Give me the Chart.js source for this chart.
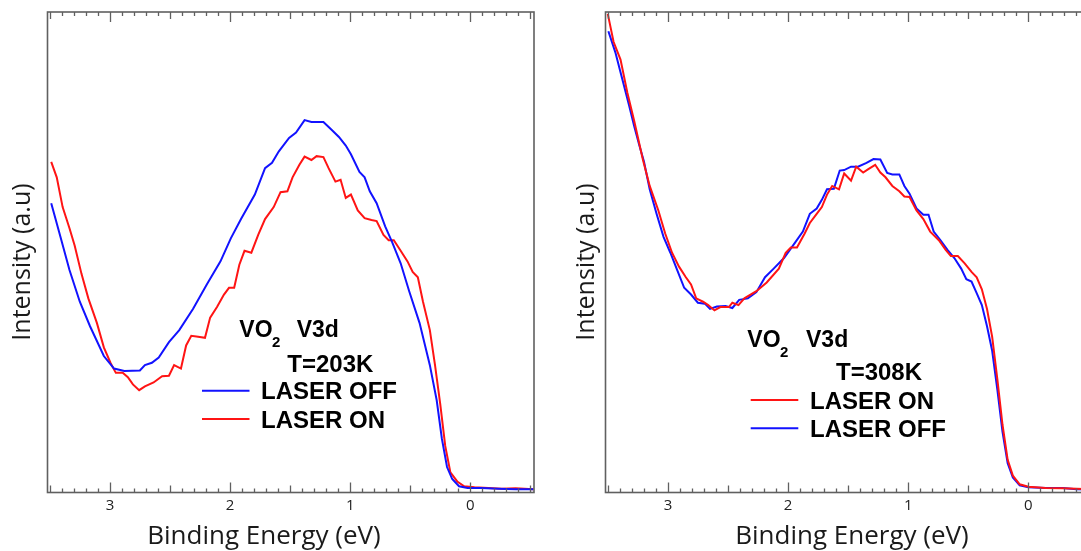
<!DOCTYPE html>
<html>
<head>
<meta charset="utf-8">
<script src="https://cdn.jsdelivr.net/npm/chart.js@4.4.1/dist/chart.umd.min.js"></script>
<style>
  html, body { margin: 0; padding: 0; background: #fff; overflow: hidden; width: 1081px; height: 551px; }
  canvas { position: absolute; top: 0; }
  #left-panel { left: 0; }
  #right-panel { left: 558px; }
</style>
</head>
<body>
<canvas id="left-panel" width="540" height="551"></canvas>
<canvas id="right-panel" width="540" height="551"></canvas>
<script>
// binding energy axis (eV), reversed, and the labelled ticks
const energyMin = -0.53;
const energyMax = 3.52;
const energyTicks = [0, 1, 2, 3];

// V3d spectra [binding energy (eV), intensity (a.u.)]
// T = 203 K
const off203 = [
  [3.489,60.2],[3.409,52.9],[3.337,46.3],[3.251,39.7],[3.166,34.6],[3.051,28.4],[2.966,25.8],
  [2.88,25.3],[2.751,25.4],[2.709,26.5],[2.651,27.0],[2.594,28.1],[2.509,31.3],[2.423,33.8],
  [2.309,38.2],[2.194,43.3],[2.08,48.1],[1.994,52.9],[1.909,56.9],[1.794,62.0],[1.709,67.5],
  [1.651,68.6],[1.594,71.0],[1.509,73.8],[1.451,74.9],[1.38,77.5],[1.323,77.1],[1.223,77.1],
  [1.151,75.4],[1.094,74.0],[1.037,72.2],[0.994,70.4],[0.923,66.7],[0.88,65.6],[0.837,62.7],
  [0.78,60.2],[0.709,55.4],[0.651,52.1],[0.58,47.7],[0.509,41.9],[0.423,35.3],[0.337,26.5],
  [0.28,19.2],[0.237,11.2],[0.194,5.3],[0.151,2.8],[0.094,1.3],[0.023,0.95],[-0.091,0.95],
  [-0.234,0.8],[-0.377,0.7],[-0.525,0.7]
];
const on203 = [
  [3.489,68.8],[3.443,65.6],[3.394,59.4],[3.337,55.0],[3.294,51.4],[3.237,45.5],[3.18,40.4],
  [3.109,35.3],[3.051,30.2],[2.994,26.9],[2.951,24.9],[2.894,24.9],[2.851,24.0],[2.809,22.5],
  [2.757,21.3],[2.709,22.1],[2.637,22.9],[2.566,24.2],[2.509,24.3],[2.466,26.5],[2.409,25.8],
  [2.366,30.6],[2.323,32.6],[2.266,32.4],[2.209,32.2],[2.166,36.4],[2.109,38.6],[2.051,41.2],
  [2.009,42.6],[1.966,42.6],[1.923,47.4],[1.88,50.3],[1.823,49.9],[1.766,53.6],[1.709,56.9],
  [1.637,59.4],[1.58,62.5],[1.523,62.7],[1.48,65.6],[1.423,68.2],[1.38,69.9],[1.323,69.2],
  [1.28,70.0],[1.223,69.8],[1.18,67.5],[1.123,64.7],[1.08,65.1],[1.037,61.3],[0.994,62.0],
  [0.937,58.7],[0.88,57.1],[0.823,56.7],[0.78,56.5],[0.723,53.6],[0.68,52.5],[0.637,52.5],
  [0.58,50.3],[0.523,48.1],[0.48,45.9],[0.437,44.8],[0.394,39.7],[0.337,33.8],[0.294,26.5],
  [0.251,18.5],[0.209,9.7],[0.166,4.2],[0.109,2.3],[0.051,1.3],[-0.034,1.1],[-0.149,0.95],
  [-0.263,0.8],[-0.377,0.88],[-0.525,0.7]
];
// T = 308 K
const on308 = [
  [3.501,99.6],[3.453,93.8],[3.395,90.1],[3.338,83.2],[3.281,77.3],[3.209,69.3],[3.152,63.8],
  [3.08,58.7],[3.023,53.9],[2.966,49.9],[2.908,47.0],[2.851,44.8],[2.808,43.3],[2.765,40.4],
  [2.708,39.7],[2.665,39.0],[2.613,37.9],[2.564,38.6],[2.493,38.6],[2.464,39.5],[2.413,39.0],
  [2.364,40.4],[2.264,41.9],[2.178,43.7],[2.077,46.6],[2.02,49.9],[1.977,51.0],[1.926,51.0],
  [1.862,53.9],[1.819,56.1],[1.762,58.0],[1.719,59.4],[1.676,62.0],[1.633,63.8],[1.576,63.1],
  [1.533,66.4],[1.476,64.9],[1.433,67.8],[1.375,66.6],[1.332,67.3],[1.275,68.2],[1.232,66.6],
  [1.189,65.6],[1.132,63.8],[1.074,62.7],[1.032,61.6],[0.989,61.5],[0.931,58.7],[0.874,56.9],
  [0.817,54.3],[0.745,52.5],[0.688,50.5],[0.645,49.2],[0.587,49.2],[0.53,47.7],[0.473,45.9],
  [0.43,44.8],[0.387,42.3],[0.344,38.2],[0.301,32.4],[0.258,23.6],[0.215,14.1],[0.172,6.8],
  [0.129,3.5],[0.072,1.7],[0.0,1.2],[-0.143,0.95],[-0.287,0.88],[-0.401,0.8],[-0.525,0.7]
];
const off308 = [
  [3.496,96.0],[3.438,91.6],[3.381,86.1],[3.324,80.6],[3.281,76.2],[3.238,72.2],[3.2,68.9],
  [3.152,63.1],[3.095,58.0],[3.037,53.2],[2.98,49.9],[2.923,46.3],[2.865,42.6],[2.808,41.2],
  [2.751,39.5],[2.693,39.3],[2.65,38.2],[2.593,38.7],[2.521,38.8],[2.464,38.4],[2.407,40.1],
  [2.335,40.4],[2.264,41.7],[2.192,44.8],[2.12,46.6],[2.034,48.8],[1.948,51.8],[1.877,54.3],
  [1.819,58.0],[1.762,59.1],[1.719,60.9],[1.676,63.1],[1.619,63.2],[1.57,67.0],[1.533,67.1],
  [1.476,67.8],[1.418,67.8],[1.347,68.6],[1.289,69.4],[1.232,69.3],[1.175,66.5],[1.132,66.2],
  [1.074,66.2],[1.032,63.8],[0.989,62.2],[0.931,59.1],[0.874,57.8],[0.831,57.8],[0.788,54.3],
  [0.731,52.5],[0.673,50.5],[0.616,48.8],[0.559,46.6],[0.516,44.4],[0.473,43.9],[0.43,41.5],
  [0.387,39.0],[0.344,34.6],[0.301,29.5],[0.258,21.4],[0.215,12.6],[0.172,6.1],[0.129,3.1],
  [0.072,1.5],[0.0,1.1],[-0.143,0.95],[-0.287,0.95],[-0.401,0.7],[-0.525,0.6]
];

const BLUE = '#1212ff';
const RED = '#ff1414';
const xTitle = 'Binding Energy (eV)';
const yTitle = 'Intensity (a.u)';

function toPoints(pairs) {
  return pairs.map(p => ({ x: p[0], y: p[1] }));
}

function series(label, pairs, color) {
  return {
    label: label,
    data: toPoints(pairs),
    borderColor: color,
    borderWidth: 2,
    pointRadius: 0,
    tension: 0,
    fill: false
  };
}

// frame, inward ticks, axis titles and the in-plot notes
const framePlugin = {
  id: 'frame',
  afterDatasetsDraw(chart, args, opts) {
    const ctx = chart.ctx;
    const a = chart.chartArea;
    const xs = chart.scales.x;
    ctx.save();

    // box
    ctx.strokeStyle = '#606060';
    ctx.lineWidth = 1.6;
    ctx.strokeRect(a.left, a.top, a.right - a.left, a.bottom - a.top);

    // minor ticks every 0.1 eV, longer at halves and integers
    ctx.lineWidth = 1.3;
    ctx.beginPath();
    for (let i = Math.ceil(energyMin * 10); i <= Math.floor(energyMax * 10); i++) {
      const px = Math.round(xs.getPixelForValue(i / 10)) + 0.5;
      const len = (i % 10 === 0) ? 10 : (i % 5 === 0 ? 7 : 4);
      ctx.moveTo(px, a.bottom);
      ctx.lineTo(px, a.bottom - len);
      ctx.moveTo(px, a.top);
      ctx.lineTo(px, a.top + len);
    }
    ctx.stroke();

    // axis titles
    ctx.fillStyle = '#1a1a1a';
    ctx.textAlign = 'center';
    ctx.textBaseline = 'alphabetic';
    ctx.font = '26px "Open Sans"';
    ctx.fillText(xTitle, opts.xTitleX, 544);
    ctx.save();
    ctx.font = '25px "Open Sans"';
    ctx.translate(opts.yTitleX, 262);
    ctx.rotate(-Math.PI / 2);
    ctx.textBaseline = 'middle';
    ctx.fillText(yTitle, 0, 0);
    ctx.restore();

    // sample label
    ctx.fillStyle = '#000';
    ctx.textAlign = 'left';
    const n = opts.note;
    ctx.font = 'bold 23px "Liberation Sans", Arial';
    ctx.fillText('VO', n.x, n.y);
    ctx.fillText('V3d', n.v3dX, n.y);
    ctx.font = 'bold 15px "Liberation Sans", Arial';
    ctx.fillText('2', n.subX, n.y + 10);
    ctx.font = 'bold 24px "Liberation Sans", Arial';
    ctx.fillText(opts.temp.text, opts.temp.x, opts.temp.y);

    // legend rows in dataset order
    const lg = opts.legend;
    chart.data.datasets.forEach((ds, i) => {
      const y = lg.y + i * lg.gap;
      ctx.strokeStyle = ds.borderColor;
      ctx.lineWidth = 2;
      ctx.beginPath();
      ctx.moveTo(lg.x0, y);
      ctx.lineTo(lg.x1, y);
      ctx.stroke();
      ctx.fillText(ds.label, lg.textX, y + 8.5);
    });
    ctx.restore();
  }
};

function makePanel(id, datasets, opts) {
  return new Chart(document.getElementById(id), {
    type: 'line',
    data: { datasets: datasets },
    options: {
      responsive: false,
      animation: false,
      layout: { padding: { left: 47.5, top: 12, right: 6, bottom: 0 } },
      scales: {
        x: {
          type: 'linear',
          reverse: true,
          min: energyMin,
          max: energyMax,
          afterBuildTicks: s => { s.ticks = energyTicks.map(v => ({ value: v })); },
          afterFit: s => { s.height = 58.5; },
          grid: { display: false, drawTicks: false },
          border: { display: false },
          ticks: {
            padding: 4,
            color: '#222',
            font: { family: '"Open Sans"', size: 15 },
            maxRotation: 0
          }
        },
        y: { display: false, min: 0, max: 100 }
      },
      plugins: {
        legend: { display: false },
        tooltip: { enabled: false },
        frame: opts
      }
    },
    plugins: [framePlugin]
  });
}

makePanel('left-panel', [
  series('LASER OFF', off203, BLUE),
  series('LASER ON', on203, RED)
], {
  xTitleX: 264,
  yTitleX: 23,
  note: { x: 239.3, y: 337.3, subX: 272, v3dX: 296.7 },
  temp: { text: 'T=203K', x: 287.3, y: 371.7 },
  legend: { x0: 202, x1: 249.5, textX: 261, y: 390.7, gap: 28.3 }
});

makePanel('right-panel', [
  series('LASER ON', on308, RED),
  series('LASER OFF', off308, BLUE)
], {
  xTitleX: 294,
  yTitleX: 28.5,
  note: { x: 189.3, y: 347.3, subX: 222, v3dX: 248 },
  temp: { text: 'T=308K', x: 278, y: 380 },
  legend: { x0: 192.7, x1: 240.3, textX: 252, y: 400, gap: 28.3 }
});
</script>
</body>
</html>
